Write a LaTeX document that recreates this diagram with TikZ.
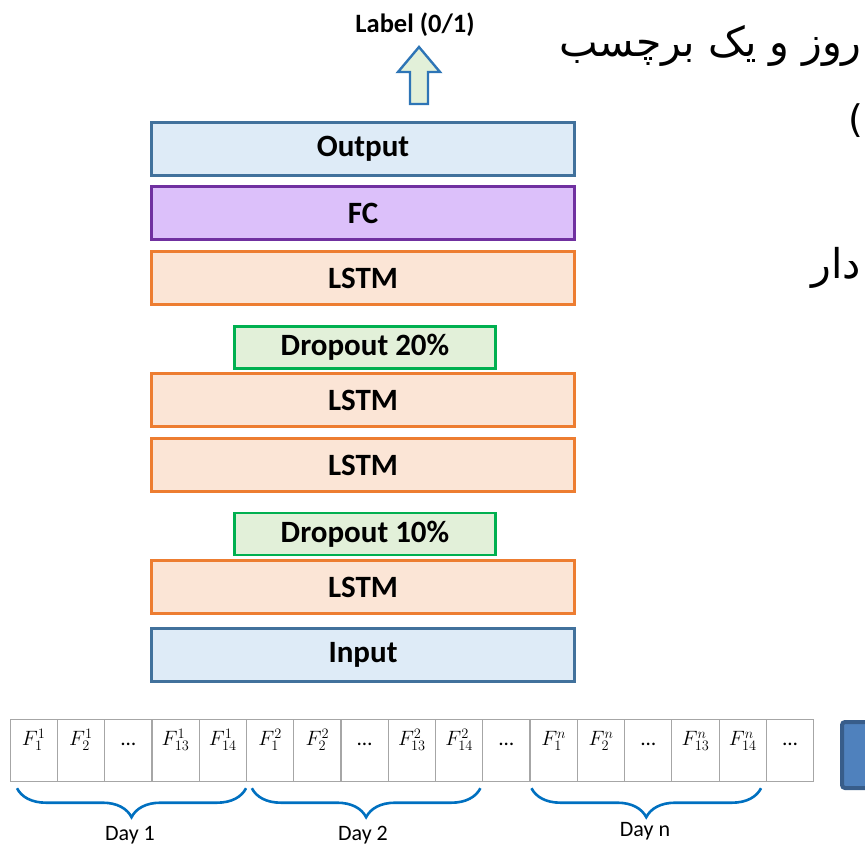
\documentclass[tikz,border=0pt]{standalone}
\usepackage{fontspec}
\setmainfont{Carlito}
\newfontfamily\persianfont[Script=Arabic]{DejaVu Sans}
\TeXXeTstate=1
\usetikzlibrary{calc,decorations.pathreplacing}

% larger indices for the feature labels
\DeclareMathSizes{21}{21}{15}{11}

\definecolor{iofill}{HTML}{DEEBF7}
\definecolor{ioedge}{HTML}{41719C}
\definecolor{fcfill}{HTML}{DCC0FA}
\definecolor{fcedge}{HTML}{7030A0}
\definecolor{lstmfill}{HTML}{FBE5D6}
\definecolor{lstmedge}{HTML}{ED7D31}
\definecolor{dropfill}{HTML}{E2F0D9}
\definecolor{dropedge}{HTML}{00B050}
\definecolor{arrowedge}{HTML}{2E75B6}
\definecolor{bracecol}{HTML}{0070C0}
\definecolor{cellgray}{HTML}{A6A6A6}
\definecolor{blockfill}{HTML}{4F81BD}
\definecolor{blockedge}{HTML}{385D8A}

\newcommand{\celldots}{\textellipsis}

\begin{document}
\begin{tikzpicture}[x=1pt,y=-1pt,
  layer/.style={draw, line width=2.8pt, minimum width=423pt, minimum height=53pt,
    inner sep=0pt, font=\fontsize{31}{34}\selectfont\bfseries},
  iobox/.style={layer, draw=ioedge, fill=iofill},
  fcbox/.style={layer, draw=fcedge, fill=fcfill},
  lstmbox/.style={layer, draw=lstmedge, fill=lstmfill},
  dropbox/.style={layer, draw=dropedge, fill=dropfill, minimum width=261pt, minimum height=42pt},
  cell/.style={draw=cellgray, line width=1.2pt, minimum width=47.27pt, minimum height=62pt,
    inner sep=0pt, anchor=north west, text height=26pt, text depth=36pt,
    font=\fontsize{21}{24}\selectfont},
  daybrace/.style={draw=bracecol, line width=2.6pt, decorate,
    decoration={brace, mirror, amplitude=29pt}},
  daylabel/.style={anchor=base, font=\fontsize{22}{26}\selectfont},
  fatext/.style={anchor=base east, inner sep=0pt, font=\fontsize{41}{46}\persianfont}
]
\useasboundingbox (0,0) rectangle (865,844);

% network layers, top to bottom
\node[iobox]   (out)   at (363,149)   {Output};
\node[fcbox]   (fc)    at (363,213)   {FC};
\node[lstmbox] (lstmA) at (363,278)   {LSTM};
\node[dropbox] (dropA) at (365,347.5) {Dropout 20\%};
\node[lstmbox] (lstmB) at (363,400)   {LSTM};
\node[lstmbox] (lstmC) at (363,465)   {LSTM};
\node[dropbox] (dropB) at (365,534)   {Dropout 10\%};
\node[lstmbox] (lstmD) at (363,587)   {LSTM};
\node[iobox]   (inp)   at (363,655)   {Input};

% output label and block arrow
\node[anchor=base, font=\fontsize{26.5}{30}\selectfont\bfseries] (lbl) at (415,32) {Label (0/1)};
\coordinate (atip) at (419,47);
\coordinate (abot) at (419,104);
\draw[draw=arrowedge, fill=dropfill, line width=2.4pt, line join=miter]
  ($(abot)+(-9,0)$) -- ($(abot)+(-9,-32)$) -- ($(abot)+(-21,-32)$) -- (atip)
  -- ($(abot)+(21,-32)$) -- ($(abot)+(9,-32)$) -- ($(abot)+(9,0)$) -- cycle;

% feature sequence
\foreach \t [count=\i] in {
  {$F_{1}^{1}$},{$F_{2}^{1}$},{\celldots},{$F_{13}^{1}$},{$F_{14}^{1}$},
  {$F_{1}^{2}$},{$F_{2}^{2}$},{\celldots},{$F_{13}^{2}$},{$F_{14}^{2}$},
  {\celldots},
  {$F_{1}^{n}$},{$F_{2}^{n}$},{\celldots},{$F_{13}^{n}$},{$F_{14}^{n}$},
  {\celldots}}
  \node[cell] (c\i) at ({9.5+(\i-1)*47.27},719) {\t};

% block at the right of the sequence
\node[draw=blockedge, fill=blockfill, line width=4pt, rounded corners=3pt,
  minimum width=60pt, minimum height=66pt, anchor=north west] (blk) at (840,720) {};

% day groups
\draw[daybrace] ($(c1.south west)+(7.5,6)$) -- ($(c5.south east)+(-1,6)$);
\draw[daybrace] ($(c6.south west)+(6,6)$) -- ($(c10.south east)+(-3,6)$);
\draw[daybrace] ($(c12.south west)+(2,6)$) -- ($(c16.south east)+(-6,6)$);
\node[daylabel] (d1) at (130,840) {Day 1};
\node[daylabel] (d2) at (363,840) {Day 2};
\node[daylabel] (dn) at (645,836) {Day n};

% Persian text at the right
\node[fatext] (faA) at (862,56) {\beginR روز  و یک برچسب\endR};
\node[anchor=base, inner sep=0pt, font=\fontsize{38}{44}\persianfont] (faB) at (856,132) {)};
\node[fatext] (faC) at (861,278) {\beginR دار\endR};
\end{tikzpicture}
\end{document}
